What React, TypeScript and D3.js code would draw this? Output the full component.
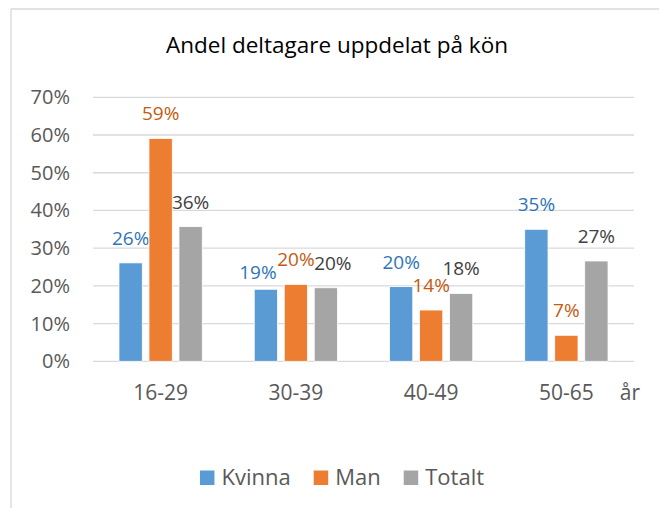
import React, { useEffect, useRef } from "react";
import * as d3 from "d3";

const categories = ["16-29", "30-39", "40-49", "50-65"];
const seriesNames = ["Kvinna", "Man", "Totalt"];
const kvinna = [0.261, 0.191, 0.198, 0.35];
const man = [0.591, 0.204, 0.136, 0.069];
const totalt = [0.357, 0.195, 0.18, 0.266];
const yTicks = [0, 0.1, 0.2, 0.3, 0.4, 0.5, 0.6, 0.7];
const title = "Andel deltagare uppdelat på kön";
const axisUnit = "år";

const barColors = ["#5B9BD5", "#ED7D31", "#A5A5A5"];
const labelColors = ["#2E75B6", "#C55A11", "#404040"];
// label nudges (layout only) for overlapping labels: key "series|category"
const labelNudge: Record<string, [number, number]> = {
  "0|1": [-8, 8],
  "2|1": [7, 0],
};

const W = 659;
const H = 508;
const FONT = "'Open Sans', sans-serif";

export default function App() {
  const ref = useRef<SVGSVGElement>(null);
  useEffect(() => {
    const svg = d3.select(ref.current);
    svg.selectAll("*").remove();
    const values = [kvinna, man, totalt];

    svg.append("rect").attr("x", 0).attr("y", 0).attr("width", W).attr("height", H).attr("fill", "#fff");
    // frame
    svg.append("line").attr("x1", 11).attr("x2", 11).attr("y1", 9).attr("y2", H).attr("stroke", "#D9D9D9").attr("stroke-width", 1.3);
    svg.append("line").attr("x1", 11).attr("x2", W).attr("y1", 9).attr("y2", 9).attr("stroke", "#D9D9D9").attr("stroke-width", 1.3);

    svg.append("text").text(title).attr("x", 337).attr("y", 53).attr("text-anchor", "middle")
      .attr("font-family", FONT).attr("font-size", 22.5).attr("fill", "#000");

    const x = d3.scaleBand<string>().domain(categories).range([93, 634]).padding(0);
    const y = d3.scaleLinear().domain([0, 0.7]).range([361.3, 97.3]);
    const groupW = 83.3;
    const xi = d3.scaleBand<string>().domain(seriesNames).range([0, groupW]).paddingInner(0.223);

    // gridlines
    svg.append("g").selectAll("line").data(yTicks).join("line")
      .attr("x1", 93).attr("x2", 634)
      .attr("y1", (d) => y(d)).attr("y2", (d) => y(d))
      .attr("stroke", "#D9D9D9").attr("stroke-width", 1.3);

    // y labels
    svg.append("g").selectAll("text").data(yTicks).join("text")
      .text((d) => d3.format(".0%")(d))
      .attr("x", 70).attr("y", (d) => y(d) + 7)
      .attr("text-anchor", "end").attr("font-family", FONT).attr("font-size", 20).attr("fill", "#595959");

    // bars
    values.forEach((vals, si) => {
      const g = svg.append("g");
      g.selectAll("rect").data(vals).join("rect")
        .attr("x", (_, i) => (x(categories[i]) as number) + x.bandwidth() / 2 - groupW / 2 + (xi(seriesNames[si]) as number))
        .attr("width", xi.bandwidth())
        .attr("y", (d) => y(d))
        .attr("height", (d) => y(0) - y(d))
        .attr("fill", barColors[si])
        .attr("stroke", "#fff").attr("stroke-width", 0.8);
      g.selectAll("text").data(vals).join("text")
        .text((d) => d3.format(".0%")(d))
        .attr("x", (_, i) => {
          const n = labelNudge[`${si}|${i}`] || [0, 0];
          return (x(categories[i]) as number) + x.bandwidth() / 2 - groupW / 2 + (xi(seriesNames[si]) as number) + xi.bandwidth() / 2 + n[0];
        })
        .attr("y", (d, i) => {
          const n = labelNudge[`${si}|${i}`] || [0, 0];
          return y(d) - 18 + n[1];
        })
        .attr("text-anchor", "middle").attr("font-family", FONT).attr("font-size", 19).attr("fill", labelColors[si]);
    });

    // x labels
    svg.append("g").selectAll("text").data(categories).join("text")
      .text((d) => d)
      .attr("x", (d) => (x(d) as number) + x.bandwidth() / 2)
      .attr("y", 400).attr("text-anchor", "middle")
      .attr("font-family", FONT).attr("font-size", 21).attr("fill", "#595959");
    svg.append("text").text(axisUnit).attr("x", 630).attr("y", 400).attr("text-anchor", "middle")
      .attr("font-family", FONT).attr("font-size", 21).attr("fill", "#595959");

    // legend
    const lg = svg.append("g");
    const items = seriesNames.map((name, i) => {
      const it = lg.append("g");
      it.append("rect").attr("width", 14.5).attr("height", 14.5).attr("y", -14.5).attr("fill", barColors[i]);
      const t = it.append("text").text(name).attr("x", 21.5).attr("font-family", FONT).attr("font-size", 22).attr("fill", "#595959");
      const w = 21.5 + (t.node() as SVGTextElement).getComputedTextLength();
      return { it, w };
    });
    const gap = 23;
    const total = d3.sum(items, (d) => d.w) + gap * (items.length - 1);
    let cx = 342 - total / 2;
    items.forEach((d) => {
      d.it.attr("transform", `translate(${cx},485)`);
      cx += d.w + gap;
    });
  }, []);

  return (
    <div style={{ position: "absolute", left: 0, top: 0 }}>
      <svg ref={ref} width={W} height={H} style={{ display: "block" }} />
    </div>
  );
}
